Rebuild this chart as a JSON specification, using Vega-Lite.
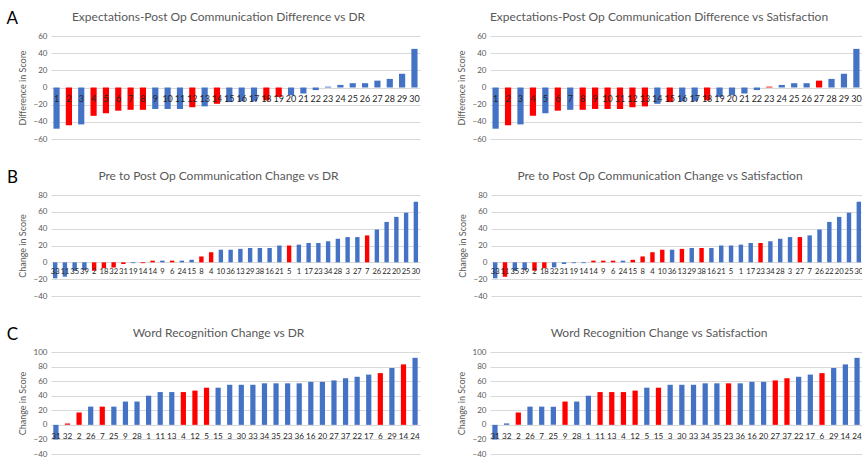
{
  "$schema": "https://vega.github.io/schema/vega-lite/v6.json",
  "background": "white",
  "padding": {"left": 6, "top": 10, "right": 0, "bottom": 0},
  "config": {
    "font": "Lato",
    "view": {"stroke": null},
    "title": {"fontSize": 12, "fontWeight": "normal", "color": "#595959", "offset": 8, "dx": -17},
    "axisY": {"domain": false, "ticks": false, "grid": true, "labelOverlap": false, "labelColor": "#595959", "labelFontSize": 8, "gridColor": "#D9D9D9", "titleColor": "#595959", "titleFontSize": 9, "titleFontWeight": "normal", "titlePadding": 6, "labelPadding": 4}
  },
  "datasets": {
    "A": [
      {"o": 1, "label": "1", "value": -48, "dr": "n", "sat": "n"},
      {"o": 2, "label": "2", "value": -44, "dr": "y", "sat": "y"},
      {"o": 3, "label": "3", "value": -43, "dr": "n", "sat": "n"},
      {"o": 4, "label": "4", "value": -33, "dr": "y", "sat": "y"},
      {"o": 5, "label": "5", "value": -30, "dr": "y", "sat": "n"},
      {"o": 6, "label": "6", "value": -27, "dr": "y", "sat": "y"},
      {"o": 7, "label": "7", "value": -26, "dr": "y", "sat": "n"},
      {"o": 8, "label": "8", "value": -26, "dr": "y", "sat": "y"},
      {"o": 9, "label": "9", "value": -25, "dr": "n", "sat": "y"},
      {"o": 10, "label": "10", "value": -25, "dr": "n", "sat": "y"},
      {"o": 11, "label": "11", "value": -25, "dr": "n", "sat": "y"},
      {"o": 12, "label": "12", "value": -23, "dr": "y", "sat": "y"},
      {"o": 13, "label": "13", "value": -22, "dr": "n", "sat": "y"},
      {"o": 14, "label": "14", "value": -19, "dr": "y", "sat": "n"},
      {"o": 15, "label": "15", "value": -17, "dr": "n", "sat": "y"},
      {"o": 16, "label": "16", "value": -16, "dr": "n", "sat": "n"},
      {"o": 17, "label": "17", "value": -16, "dr": "n", "sat": "n"},
      {"o": 18, "label": "18", "value": -15, "dr": "y", "sat": "y"},
      {"o": 19, "label": "19", "value": -11, "dr": "y", "sat": "n"},
      {"o": 20, "label": "20", "value": -9, "dr": "n", "sat": "n"},
      {"o": 21, "label": "21", "value": -7, "dr": "n", "sat": "n"},
      {"o": 22, "label": "22", "value": -3, "dr": "n", "sat": "n"},
      {"o": 23, "label": "23", "value": 1, "dr": "n", "sat": "y"},
      {"o": 24, "label": "24", "value": 3, "dr": "n", "sat": "n"},
      {"o": 25, "label": "25", "value": 5, "dr": "n", "sat": "n"},
      {"o": 26, "label": "26", "value": 5, "dr": "n", "sat": "n"},
      {"o": 27, "label": "27", "value": 8, "dr": "n", "sat": "y"},
      {"o": 28, "label": "28", "value": 10, "dr": "n", "sat": "n"},
      {"o": 29, "label": "29", "value": 16, "dr": "n", "sat": "n"},
      {"o": 30, "label": "30", "value": 45, "dr": "n", "sat": "n"}
    ],
    "B": [
      {"o": 1, "label": "33", "value": -19, "dr": "n", "sat": "n"},
      {"o": 2, "label": "11", "value": -17, "dr": "n", "sat": "y"},
      {"o": 3, "label": "35", "value": -10, "dr": "n", "sat": "n"},
      {"o": 4, "label": "39", "value": -9, "dr": "n", "sat": "n"},
      {"o": 5, "label": "2", "value": -10, "dr": "y", "sat": "y"},
      {"o": 6, "label": "18", "value": -7, "dr": "y", "sat": "y"},
      {"o": 7, "label": "32", "value": -6, "dr": "y", "sat": "n"},
      {"o": 8, "label": "31", "value": -2, "dr": "y", "sat": "n"},
      {"o": 9, "label": "19", "value": -1, "dr": "n", "sat": "n"},
      {"o": 10, "label": "14", "value": -1, "dr": "y", "sat": "n"},
      {"o": 11, "label": "14", "value": 2, "dr": "y", "sat": "y"},
      {"o": 12, "label": "9", "value": 2, "dr": "n", "sat": "y"},
      {"o": 13, "label": "6", "value": 2, "dr": "y", "sat": "y"},
      {"o": 14, "label": "24", "value": 2, "dr": "n", "sat": "n"},
      {"o": 15, "label": "15", "value": 3, "dr": "n", "sat": "y"},
      {"o": 16, "label": "8", "value": 7, "dr": "y", "sat": "y"},
      {"o": 17, "label": "4", "value": 12, "dr": "y", "sat": "y"},
      {"o": 18, "label": "10", "value": 15, "dr": "n", "sat": "y"},
      {"o": 19, "label": "36", "value": 15, "dr": "n", "sat": "n"},
      {"o": 20, "label": "13", "value": 16, "dr": "n", "sat": "y"},
      {"o": 21, "label": "29", "value": 17, "dr": "n", "sat": "n"},
      {"o": 22, "label": "38", "value": 17, "dr": "n", "sat": "y"},
      {"o": 23, "label": "16", "value": 17, "dr": "n", "sat": "n"},
      {"o": 24, "label": "21", "value": 20, "dr": "n", "sat": "n"},
      {"o": 25, "label": "5", "value": 20, "dr": "y", "sat": "n"},
      {"o": 26, "label": "1", "value": 21, "dr": "n", "sat": "n"},
      {"o": 27, "label": "17", "value": 23, "dr": "n", "sat": "n"},
      {"o": 28, "label": "23", "value": 23, "dr": "n", "sat": "y"},
      {"o": 29, "label": "34", "value": 25, "dr": "n", "sat": "n"},
      {"o": 30, "label": "28", "value": 28, "dr": "n", "sat": "n"},
      {"o": 31, "label": "3", "value": 30, "dr": "n", "sat": "n"},
      {"o": 32, "label": "27", "value": 30, "dr": "n", "sat": "y"},
      {"o": 33, "label": "7", "value": 32, "dr": "y", "sat": "n"},
      {"o": 34, "label": "26", "value": 39, "dr": "n", "sat": "n"},
      {"o": 35, "label": "22", "value": 48, "dr": "n", "sat": "n"},
      {"o": 36, "label": "20", "value": 54, "dr": "n", "sat": "n"},
      {"o": 37, "label": "25", "value": 59, "dr": "n", "sat": "n"},
      {"o": 38, "label": "30", "value": 72, "dr": "n", "sat": "n"}
    ],
    "C": [
      {"o": 1, "label": "31", "value": -20, "dr": "n", "sat": "n"},
      {"o": 2, "label": "32", "value": 2, "dr": "y", "sat": "n"},
      {"o": 3, "label": "2", "value": 17, "dr": "y", "sat": "y"},
      {"o": 4, "label": "26", "value": 25, "dr": "n", "sat": "n"},
      {"o": 5, "label": "7", "value": 25, "dr": "y", "sat": "n"},
      {"o": 6, "label": "25", "value": 25, "dr": "n", "sat": "n"},
      {"o": 7, "label": "9", "value": 32, "dr": "n", "sat": "y"},
      {"o": 8, "label": "28", "value": 32, "dr": "n", "sat": "n"},
      {"o": 9, "label": "1", "value": 40, "dr": "n", "sat": "n"},
      {"o": 10, "label": "11", "value": 45, "dr": "n", "sat": "y"},
      {"o": 11, "label": "13", "value": 45, "dr": "n", "sat": "y"},
      {"o": 12, "label": "4", "value": 45, "dr": "y", "sat": "y"},
      {"o": 13, "label": "12", "value": 47, "dr": "y", "sat": "y"},
      {"o": 14, "label": "5", "value": 51, "dr": "y", "sat": "n"},
      {"o": 15, "label": "15", "value": 51, "dr": "n", "sat": "y"},
      {"o": 16, "label": "3", "value": 55, "dr": "n", "sat": "n"},
      {"o": 17, "label": "30", "value": 55, "dr": "n", "sat": "n"},
      {"o": 18, "label": "33", "value": 55, "dr": "n", "sat": "n"},
      {"o": 19, "label": "34", "value": 57, "dr": "n", "sat": "n"},
      {"o": 20, "label": "35", "value": 57, "dr": "n", "sat": "n"},
      {"o": 21, "label": "23", "value": 57, "dr": "n", "sat": "y"},
      {"o": 22, "label": "36", "value": 57, "dr": "n", "sat": "n"},
      {"o": 23, "label": "16", "value": 59, "dr": "n", "sat": "n"},
      {"o": 24, "label": "20", "value": 59, "dr": "n", "sat": "n"},
      {"o": 25, "label": "27", "value": 61, "dr": "n", "sat": "y"},
      {"o": 26, "label": "37", "value": 64, "dr": "n", "sat": "y"},
      {"o": 27, "label": "22", "value": 66, "dr": "n", "sat": "n"},
      {"o": 28, "label": "17", "value": 69, "dr": "n", "sat": "n"},
      {"o": 29, "label": "6", "value": 71, "dr": "y", "sat": "y"},
      {"o": 30, "label": "29", "value": 78, "dr": "n", "sat": "n"},
      {"o": 31, "label": "14", "value": 83, "dr": "y", "sat": "n"},
      {"o": 32, "label": "24", "value": 92, "dr": "n", "sat": "n"}
    ]
  },
  "spacing": 26,
  "vconcat": [
    {
      "title": {"text": "A", "orient": "left", "anchor": "end", "angle": 0, "align": "left", "baseline": "top", "fontSize": 17, "color": "#000000", "offset": 0, "dx": 0},
      "spacing": 37,
      "hconcat": [
        {
          "data": {"name": "A"},
          "title": "Expectations-Post Op Communication Difference vs DR",
          "width": 369, "height": 103,
          "resolve": {"axis": {"y": "independent"}},
          "encoding": {"x": {"field": "o", "type": "ordinal", "axis": null, "scale": {"paddingInner": 0.5, "paddingOuter": 0.2}}},
          "layer": [
            {"mark": {"type": "bar"}, "encoding": {"y": {"field": "value", "type": "quantitative", "scale": {"domain": [-60, 60]}, "axis": {"title": "Difference in Score", "values": [-60, -40, -20, 0, 20, 40, 60], "grid": true}}, "color": {"field": "dr", "type": "nominal", "scale": {"domain": ["n", "y"], "range": ["#4472C4", "#FF0000"]}, "legend": null}}},
            {"mark": {"type": "text", "dy": 11, "fontSize": 9, "color": "#262626"}, "encoding": {"y": {"datum": 0, "type": "quantitative", "axis": null}, "text": {"field": "label"}}}
          ]
        },
        {
          "data": {"name": "A"},
          "title": "Expectations-Post Op Communication Difference vs Satisfaction",
          "width": 372, "height": 103,
          "resolve": {"axis": {"y": "independent"}},
          "encoding": {"x": {"field": "o", "type": "ordinal", "axis": null, "scale": {"paddingInner": 0.5, "paddingOuter": 0.2}}},
          "layer": [
            {"mark": {"type": "bar"}, "encoding": {"y": {"field": "value", "type": "quantitative", "scale": {"domain": [-60, 60]}, "axis": {"title": "Difference in Score", "values": [-60, -40, -20, 0, 20, 40, 60], "grid": true}}, "color": {"field": "sat", "type": "nominal", "scale": {"domain": ["n", "y"], "range": ["#4472C4", "#FF0000"]}, "legend": null}}},
            {"mark": {"type": "text", "dy": 11, "fontSize": 9, "color": "#262626"}, "encoding": {"y": {"datum": 0, "type": "quantitative", "axis": null}, "text": {"field": "label"}}}
          ]
        }
      ]
    },
    {
      "title": {"text": "B", "orient": "left", "anchor": "end", "angle": 0, "align": "left", "baseline": "top", "fontSize": 17, "color": "#000000", "offset": 0, "dx": 0},
      "spacing": 37,
      "hconcat": [
        {
          "data": {"name": "B"},
          "title": "Pre to Post Op Communication Change vs DR",
          "width": 369, "height": 101,
          "resolve": {"axis": {"y": "independent"}},
          "encoding": {"x": {"field": "o", "type": "ordinal", "axis": null, "scale": {"paddingInner": 0.55, "paddingOuter": 0.2}}},
          "layer": [
            {"mark": {"type": "bar"}, "encoding": {"y": {"field": "value", "type": "quantitative", "scale": {"domain": [-40, 80]}, "axis": {"title": "Change in Score", "values": [-40, -20, 0, 20, 40, 60, 80], "grid": true}}, "color": {"field": "dr", "type": "nominal", "scale": {"domain": ["n", "y"], "range": ["#4472C4", "#FF0000"]}, "legend": null}}},
            {"mark": {"type": "text", "dy": 10, "fontSize": 7.6, "color": "#262626"}, "encoding": {"y": {"datum": 0, "type": "quantitative", "axis": null}, "text": {"field": "label"}}}
          ]
        },
        {
          "data": {"name": "B"},
          "title": "Pre to Post Op Communication Change vs Satisfaction",
          "width": 372, "height": 101,
          "resolve": {"axis": {"y": "independent"}},
          "encoding": {"x": {"field": "o", "type": "ordinal", "axis": null, "scale": {"paddingInner": 0.55, "paddingOuter": 0.2}}},
          "layer": [
            {"mark": {"type": "bar"}, "encoding": {"y": {"field": "value", "type": "quantitative", "scale": {"domain": [-40, 80]}, "axis": {"title": "Change in Score", "values": [-40, -20, 0, 20, 40, 60, 80], "grid": true}}, "color": {"field": "sat", "type": "nominal", "scale": {"domain": ["n", "y"], "range": ["#4472C4", "#FF0000"]}, "legend": null}}},
            {"mark": {"type": "text", "dy": 10, "fontSize": 7.6, "color": "#262626"}, "encoding": {"y": {"datum": 0, "type": "quantitative", "axis": null}, "text": {"field": "label"}}}
          ]
        }
      ]
    },
    {
      "title": {"text": "C", "orient": "left", "anchor": "end", "angle": 0, "align": "left", "baseline": "top", "fontSize": 17, "color": "#000000", "offset": 0, "dx": 0},
      "spacing": 37,
      "hconcat": [
        {
          "data": {"name": "C"},
          "title": "Word Recognition Change vs DR",
          "width": 369, "height": 102,
          "resolve": {"axis": {"y": "independent"}},
          "encoding": {"x": {"field": "o", "type": "ordinal", "axis": null, "scale": {"paddingInner": 0.55, "paddingOuter": 0.2}}},
          "layer": [
            {"mark": {"type": "bar"}, "encoding": {"y": {"field": "value", "type": "quantitative", "scale": {"domain": [-40, 100]}, "axis": {"title": "Change in Score", "values": [-40, -20, 0, 20, 40, 60, 80, 100], "grid": true}}, "color": {"field": "dr", "type": "nominal", "scale": {"domain": ["n", "y"], "range": ["#4472C4", "#FF0000"]}, "legend": null}}},
            {"mark": {"type": "text", "dy": 12, "fontSize": 8.2, "color": "#262626"}, "encoding": {"y": {"datum": 0, "type": "quantitative", "axis": null}, "text": {"field": "label"}}}
          ]
        },
        {
          "data": {"name": "C"},
          "title": "Word Recognition Change vs Satisfaction",
          "width": 372, "height": 102,
          "resolve": {"axis": {"y": "independent"}},
          "encoding": {"x": {"field": "o", "type": "ordinal", "axis": null, "scale": {"paddingInner": 0.55, "paddingOuter": 0.2}}},
          "layer": [
            {"mark": {"type": "bar"}, "encoding": {"y": {"field": "value", "type": "quantitative", "scale": {"domain": [-40, 100]}, "axis": {"title": "Change in Score", "values": [-40, -20, 0, 20, 40, 60, 80, 100], "grid": true}}, "color": {"field": "sat", "type": "nominal", "scale": {"domain": ["n", "y"], "range": ["#4472C4", "#FF0000"]}, "legend": null}}},
            {"mark": {"type": "text", "dy": 12, "fontSize": 8.2, "color": "#262626"}, "encoding": {"y": {"datum": 0, "type": "quantitative", "axis": null}, "text": {"field": "label"}}}
          ]
        }
      ]
    }
  ]
}
